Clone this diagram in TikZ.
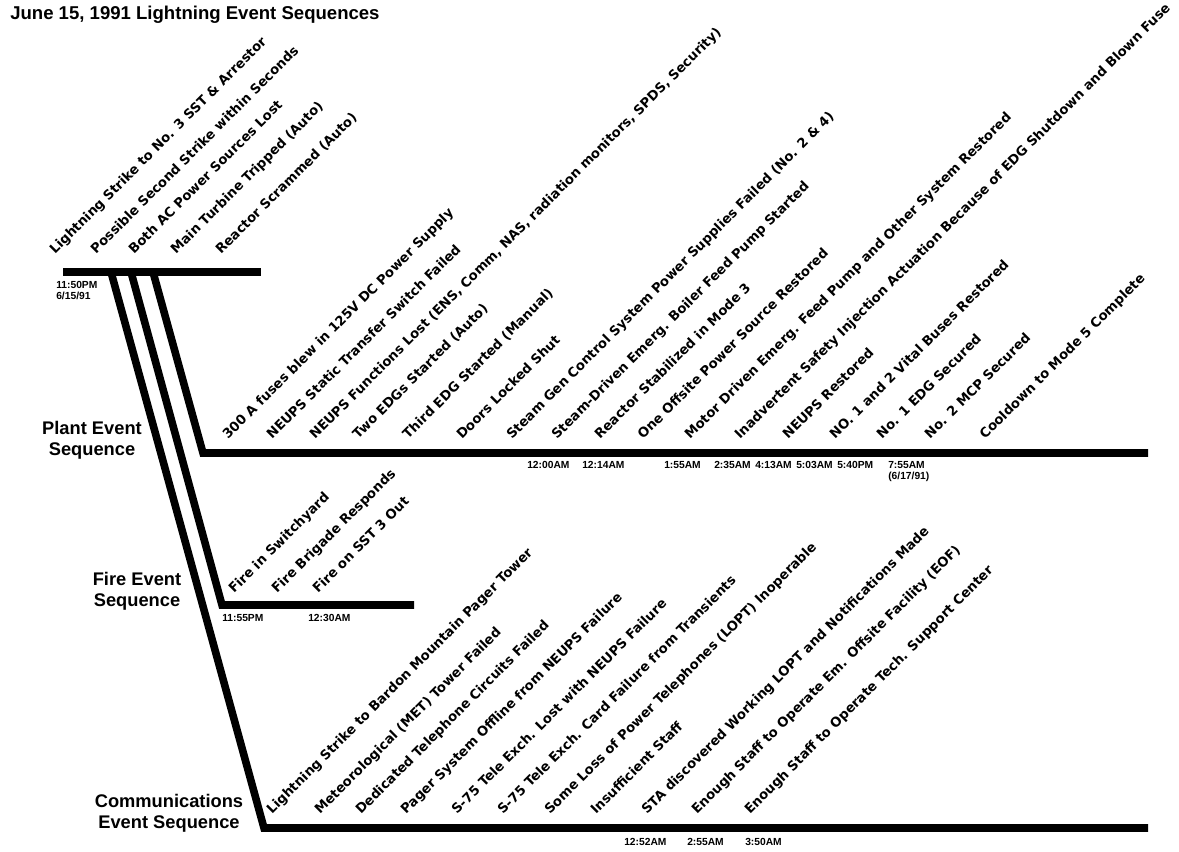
\documentclass[tikz,border=0pt]{standalone}
\usepackage{fontspec}
\setmainfont{Liberation Sans}
\newfontfamily\evfont{DejaVu Sans}
\usepackage{tikz}

\begin{document}
\begin{tikzpicture}[x=0.025cm,y=-0.025cm,
	track/.style={line width=5.4pt,line join=miter},
	event/.style={rotate=45,anchor=base west,inner sep=0pt,font=\evfont\bfseries\fontsize{9.4}{10}\selectfont},
	stamp/.style={anchor=north west,inner sep=0pt,font=\bfseries\fontsize{7.3}{8}\selectfont},
	seqname/.style={align=center,inner sep=0pt,font=\bfseries\fontsize{13}{15}\selectfont}]
\useasboundingbox (0,0) rectangle (1179,851);

\node[anchor=base west,inner sep=0pt,font=\bfseries\fontsize{13.2}{15}\selectfont] (title) at (10,19) {June 15, 1991 Lightning Event Sequences};

% trunk and the three sequence lines
\coordinate (start) at (63,272);
\coordinate (startend) at (261,272);
\coordinate (commsroot) at (111,272);
\coordinate (fireroot) at (131,272);
\coordinate (plantroot) at (153,272);
\coordinate (plantcorner) at (203,453);
\coordinate (plantend) at (1148,453);
\coordinate (firecorner) at (222,605);
\coordinate (fireend) at (414,605);
\coordinate (commscorner) at (264,828);
\coordinate (commsend) at (1148,828);

\draw[track] (start) -- (startend);
\draw[track] (plantroot) -- (plantcorner) -- (plantend);
\draw[track] (fireroot) -- (firecorner) -- (fireend);
\draw[track] (commsroot) -- (commscorner) -- (commsend);

\node[seqname] (plantname) at (92,440) {Plant Event\\Sequence};
\node[seqname] (firename) at (137,591) {Fire Event\\Sequence};
\node[seqname] (commsname) at (169,813) {Communications\\Event Sequence};

% first events
\node[event] (s1) at (55,255) {Lightning Strike to No. 3 SST \& Arrestor};
\node[event] (s2) at (96,255) {Possible Second Strike within Seconds};
\node[event] (s3) at (134,255) {Both AC Power Sources Lost};
\node[event] (s4) at (176,255) {Main Turbine Tripped (Auto)};
\node[event] (s5) at (221,255) {Reactor Scrammed (Auto)};
\node[stamp] (t0) at (56,281) {11:50PM};
\node[stamp] (t0d) at (56,292) {6/15/91};

% plant events
\node[event] (p1) at (228,440) {300 A fuses blew in 125V DC Power Supply};
\node[event] (p2) at (272,440) {NEUPS Static Transfer Switch Failed};
\node[event] (p3) at (315,440) {NEUPS Functions Lost (ENS, Comm, NAS, radiation monitors, SPDS, Security)};
\node[event] (p4) at (358,440) {Two EDGs Started (Auto)};
\node[event] (p5) at (408,440) {Third EDG Started (Manual)};
\node[event] (p6) at (462,440) {Doors Locked Shut};
\node[event] (p7) at (512,440) {Steam Gen Control System Power Supplies Failed (No. 2 \& 4)};
\node[event] (p8) at (557,440) {Steam-Driven Emerg. Boiler Feed Pump Started};
\node[event] (p9) at (600,440) {Reactor Stabilized in Mode 3};
\node[event] (p10) at (643,440) {One Offsite Power Source Restored};
\node[event] (p11) at (690,440) {Motor Driven Emerg. Feed Pump and Other System Restored};
\node[event] (p12) at (740,440) {Inadvertent Safety Injection Actuation Because of EDG Shutdown and Blown Fuse};
\node[event] (p13) at (788,440) {NEUPS Restored};
\node[event] (p14) at (835,440) {NO. 1 and 2 Vital Buses Restored};
\node[event] (p15) at (882,440) {No. 1 EDG Secured};
\node[event] (p16) at (930,440) {No. 2 MCP Secured};
\node[event] (p17) at (985,440) {Cooldown to Mode 5 Complete};
\node[stamp] (pt1) at (527,461) {12:00AM};
\node[stamp] (pt2) at (582,461) {12:14AM};
\node[stamp] (pt3) at (664,461) {1:55AM};
\node[stamp] (pt4) at (714,461) {2:35AM};
\node[stamp] (pt5) at (755,461) {4:13AM};
\node[stamp] (pt6) at (796,461) {5:03AM};
\node[stamp] (pt7) at (837,461) {5:40PM};
\node[stamp] (pt8) at (888,461) {7:55AM};
\node[stamp] (pt8d) at (888,472) {(6/17/91)};

% fire events
\node[event] (f1) at (234,594) {Fire in Switchyard};
\node[event] (f2) at (277,594) {Fire Brigade Responds};
\node[event] (f3) at (318,594) {Fire on SST 3 Out};
\node[stamp] (ft1) at (222,614) {11:55PM};
\node[stamp] (ft2) at (308,614) {12:30AM};

% communications events
\node[event] (c1) at (272,815) {Lightning Strike to Bardon Mountain Pager Tower};
\node[event] (c2) at (320,815) {Meteorological (MET) Tower Failed};
\node[event] (c3) at (361,815) {Dedicated Telephone Circuits Failed};
\node[event] (c4) at (406,815) {Pager System Offline from NEUPS Failure};
\node[event] (c5) at (457,815) {S-75 Tele Exch. Lost with NEUPS Failure};
\node[event] (c6) at (503,815) {S-75 Tele Exch. Card Failure from Transients};
\node[event] (c7) at (550,815) {Some Loss of Power Telephones (LOPT) Inoperable};
\node[event] (c8) at (596,815) {Insufficient Staff};
\node[event] (c9) at (647,815) {STA discovered Working LOPT and Notifications Made};
\node[event] (c10) at (697,815) {Enough Staff to Operate Em. Offsite Facility (EOF)};
\node[event] (c11) at (750,815) {Enough Staff to Operate Tech. Support Center};
\node[stamp] (ct1) at (624,838) {12:52AM};
\node[stamp] (ct2) at (687,838) {2:55AM};
\node[stamp] (ct3) at (745,838) {3:50AM};
\end{tikzpicture}
\end{document}
